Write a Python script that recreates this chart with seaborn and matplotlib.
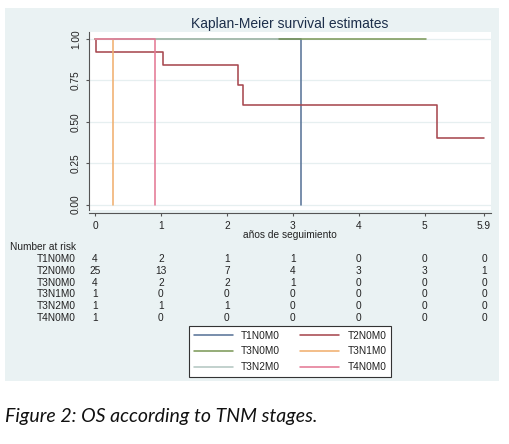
import matplotlib
matplotlib.use("Agg")
import matplotlib.pyplot as plt
import seaborn as sns
import pandas as pd
from matplotlib.patches import Rectangle
from matplotlib.lines import Line2D
from matplotlib.transforms import blended_transform_factory

# ---------------- data ----------------
groups = ["T1N0M0", "T2N0M0", "T3N0M0", "T3N1M0", "T3N2M0", "T4N0M0"]

t1_time = [0.0, 3.13]
t1_surv = [1.0, 0.0]
t2_time = [0.0, 0.01, 1.03, 2.17, 2.25, 5.19, 5.9]
t2_surv = [1.0, 0.92, 0.84, 0.72, 0.60, 0.40, 0.40]
t3n0_time = [0.0, 5.02]
t3n0_surv = [1.0, 1.0]
t3n1_time = [0.0, 0.28]
t3n1_surv = [1.0, 0.0]
t3n2_time = [0.0, 2.77]
t3n2_surv = [1.0, 1.0]
t4_time = [0.0, 0.91]
t4_surv = [1.0, 0.0]

risk_times = [0, 1, 2, 3, 4, 5, 5.9]
risk_labels_x = ["0", "1", "2", "3", "4", "5", "5.9"]
risk_T1N0M0 = [4, 2, 1, 1, 0, 0, 0]
risk_T2N0M0 = [25, 13, 7, 4, 3, 3, 1]
risk_T3N0M0 = [4, 2, 2, 1, 0, 0, 0]
risk_T3N1M0 = [1, 0, 0, 0, 0, 0, 0]
risk_T3N2M0 = [1, 1, 1, 0, 0, 0, 0]
risk_T4N0M0 = [1, 0, 0, 0, 0, 0, 0]

y_ticks = [0, 0.25, 0.5, 0.75, 1.0]
y_ticklabels = ["0.00", "0.25", "0.50", "0.75", "1.00"]

title = "Kaplan-Meier survival estimates"
xlabel = "años de seguimiento"
caption = "Figure 2: OS according to TNM stages."

# ---------------- build table ----------------
series = {
    "T1N0M0": (t1_time, t1_surv),
    "T2N0M0": (t2_time, t2_surv),
    "T3N0M0": (t3n0_time, t3n0_surv),
    "T3N1M0": (t3n1_time, t3n1_surv),
    "T3N2M0": (t3n2_time, t3n2_surv),
    "T4N0M0": (t4_time, t4_surv),
}
rows = []
for g in groups:
    tt, ss = series[g]
    for t, s in zip(tt, ss):
        rows.append({"time": t, "surv": s, "group": g})
df = pd.DataFrame(rows)

risk = {
    "T1N0M0": risk_T1N0M0, "T2N0M0": risk_T2N0M0, "T3N0M0": risk_T3N0M0,
    "T3N1M0": risk_T3N1M0, "T3N2M0": risk_T3N2M0, "T4N0M0": risk_T4N0M0,
}

colors = {
    "T1N0M0": "#5a7599",
    "T2N0M0": "#a84850",
    "T3N0M0": "#7d9a5a",
    "T3N1M0": "#f0b070",
    "T3N2M0": "#b4c7c2",
    "T4N0M0": "#e47a95",
}

# ---------------- figure ----------------
sns.set_theme(style="white")
plt.rcParams["font.family"] = ["Liberation Sans", "DejaVu Sans"]

W, H = 509, 444
fig = plt.figure(figsize=(W / 100, H / 100), dpi=100, facecolor="white")

def fx(px):
    return px / W

def fy(py):
    return 1 - py / H

# Stata-like outer panel
fig.patches.append(Rectangle((fx(5), fy(381)), fx(499) - fx(5), fy(8) - fy(381),
                             transform=fig.transFigure, facecolor="#eaf2f3",
                             edgecolor="none", zorder=-10))

ax = fig.add_axes([fx(89), fy(210), fx(491) - fx(89), fy(32) - fy(210)])
ax.set_facecolor("white")

sns.lineplot(data=df, x="time", y="surv", hue="group", hue_order=groups,
             palette=colors, drawstyle="steps-post", estimator=None, sort=False,
             legend=False, linewidth=1.15, ax=ax)

ax.set_xlim(-0.091, 6.006)
ax.set_ylim(-0.033, 1.042)
ax.set_xticks(risk_times)
ax.set_xticklabels(risk_labels_x)
ax.set_yticks(y_ticks)
ax.set_yticklabels(y_ticklabels, rotation=90, va="center")
ax.yaxis.grid(True, color="#e6eff0", linewidth=0.9)
ax.xaxis.grid(False)
ax.set_axisbelow(True)

for s in ["top", "right"]:
    ax.spines[s].set_visible(False)
for s in ["left", "bottom"]:
    ax.spines[s].set_color("#555555")
    ax.spines[s].set_linewidth(0.8)
ax.spines["bottom"].set_position(("outward", 2))

ax.tick_params(axis="both", which="major", direction="out", length=2.5, width=0.8,
               color="#555555", labelsize=7.3, labelcolor="#222222", pad=3.2,
               bottom=True, left=True)

ax.set_xlabel(xlabel, fontsize=7.3, color="#222222")
ax.xaxis.set_label_coords(0.5, (210 - 234.5) / 178)
ax.xaxis.label.set_va("center")
ax.set_ylabel("")

ax.set_title(title, fontsize=10, color="#1c2e4a", y=(210 - 28) / 178, pad=0)

# ---------------- number at risk table ----------------
tr = blended_transform_factory(ax.transData, fig.transFigure)
fig.text(fx(10), fy(247), "Number at risk", fontsize=7.3, color="#222222",
         ha="left", va="center")
row_y = [258.5, 270.5, 282.5, 294.3, 306.0, 317.7]
for g, yy in zip(groups, row_y):
    fig.text(fx(76), fy(yy), g, fontsize=7.3, color="#222222", ha="right", va="center")
    for t, n in zip(risk_times, risk[g]):
        ax.text(t, fy(yy), str(n), transform=tr, fontsize=7.3, color="#222222",
                ha="center", va="center", clip_on=False)

# ---------------- legend ----------------
lines = {g: Line2D([], [], color=colors[g], linewidth=1.15) for g in groups}
order = ["T1N0M0", "T3N0M0", "T3N2M0", "T2N0M0", "T3N1M0", "T4N0M0"]
leg = fig.legend([lines[g] for g in order], order, ncol=2, loc="center",
                 bbox_to_anchor=(fx(290), fy(351.5)), frameon=True, fancybox=False,
                 edgecolor="#333333", facecolor="white", framealpha=1, fontsize=7.3,
                 handlelength=3.85, handletextpad=0.8, columnspacing=2.0,
                 labelspacing=0.55, borderpad=0.45, borderaxespad=0)
leg.get_frame().set_linewidth(0.8)
for t in leg.get_texts():
    t.set_color("#222222")

# ---------------- caption ----------------
fig.text(fx(5), fy(422), caption, fontsize=14, style="italic",
         family=["Lato", "DejaVu Sans"], color="#111111", ha="left", va="baseline")

fig.savefig("out.png", dpi=100, facecolor="white")
